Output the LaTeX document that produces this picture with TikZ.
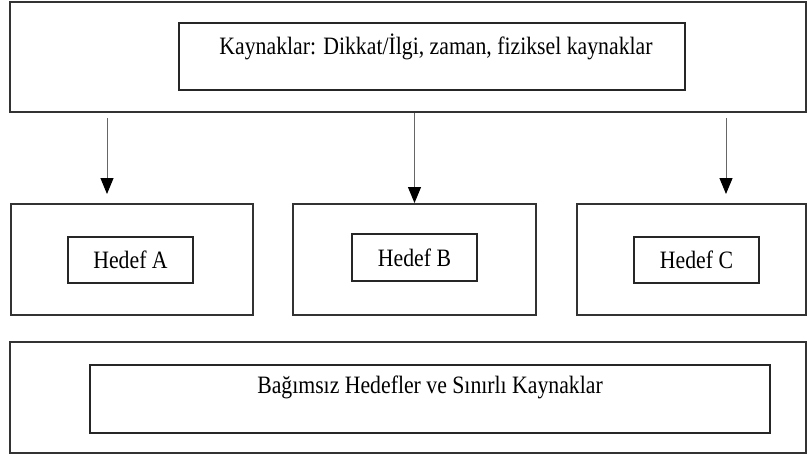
\documentclass[tikz,border=0pt]{standalone}
\usepackage{fontspec}
\setmainfont{Liberation Serif}[FakeStretch=0.87]
\usetikzlibrary{arrows.meta}
\tikzset{
    outerbox/.style={draw=black!80, line width=2pt, inner sep=0pt},
    innerbox/.style={draw=black!85, line width=1.4pt, inner sep=0pt, font=\fontsize{25}{29}\selectfont},
    lbl/.style={inner sep=0pt, font=\fontsize{25}{29}\selectfont},
    arr/.style={draw=black!60, line width=1pt, -{Triangle[width=13pt,length=16pt,color=black]}}
}
\begin{document}
\begin{tikzpicture}[x=1pt, y=-1pt]
    \useasboundingbox (0,0) rectangle (809,456);
    \node[outerbox, minimum width=796pt, minimum height=110pt] (top) at (408,57) {};
    \node[innerbox, minimum width=506pt, minimum height=67pt] (src) at (432,56.5) {};
    \node[lbl] (srctext) at (436,47) {Kaynaklar: Dikkat/İlgi, zaman, fiziksel kaynaklar};
    \node[outerbox, minimum width=242pt, minimum height=111pt] (boxA) at (132,259.5) {};
    \node[outerbox, minimum width=243pt, minimum height=111pt] (boxB) at (414.5,259.5) {};
    \node[outerbox, minimum width=229pt, minimum height=111pt] (boxC) at (691.5,259.5) {};
    \node[innerbox, minimum width=125pt, minimum height=46pt] (goalA) at (130.5,260) {Hedef A};
    \node[innerbox, minimum width=125pt, minimum height=47pt] (goalB) at (414.5,257.5) {Hedef B};
    \node[innerbox, minimum width=125pt, minimum height=46pt] (goalC) at (696.5,260) {Hedef C};
    \node[outerbox, minimum width=796pt, minimum height=111pt] (bottom) at (408,397.5) {};
    \node[innerbox, minimum width=680pt, minimum height=68pt] (indep) at (430,399) {};
    \node[lbl] (indeptext) at (430,387) {Bağımsız Hedefler ve Sınırlı Kaynaklar};
    \coordinate (aA) at (107,0);
    \coordinate (aC) at (726,0);
    \draw[arr, shorten <=5pt, shorten >=9pt] (top.south -| aA) -- (boxA.north -| aA);
    \draw[arr] (top.south -| boxB) -- (boxB.north);
    \draw[arr, shorten <=5pt, shorten >=9pt] (top.south -| aC) -- (boxC.north -| aC);
\end{tikzpicture}
\end{document}
